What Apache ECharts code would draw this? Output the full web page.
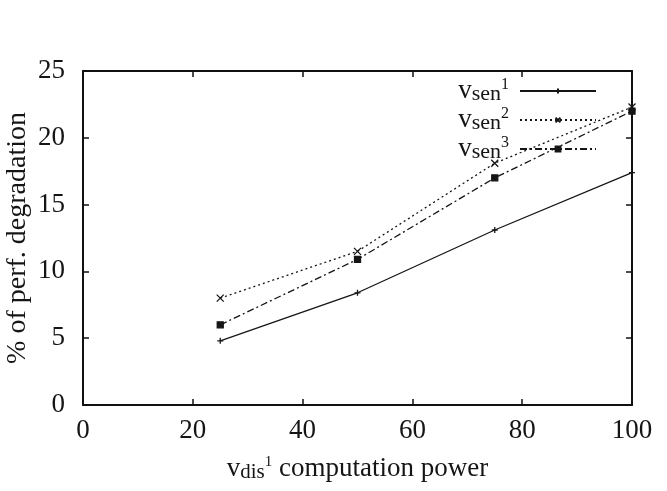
<!DOCTYPE html>
<html>
<head>
<meta charset="utf-8">
<script src="https://cdn.jsdelivr.net/npm/echarts@6/dist/echarts.min.js"></script>
<style>
  html, body { margin: 0; padding: 0; background: #fff; }
  #main { width: 667px; height: 491px; }
</style>
</head>
<body>
<div id="main"></div>
<script>
// 数据
var xValues = [25, 50, 75, 100];
var sen1 = [4.8, 8.4, 13.1, 17.4];
var sen2 = [8.0, 11.5, 18.1, 22.3];
var sen3 = [6.0, 10.9, 17.0, 22.0];
var seriesNames = ['sen1', 'sen2', 'sen3'];

var font = 'Liberation Serif';
var ink = '#151515';

// gnuplot 风格的点
var plusPath = 'path://M5,0L5,10M0,5L10,5';
var crossPath = 'path://M0,0L10,10M10,0L0,10';
var boxPath = 'path://M0,0L10,0L10,10L0,10Z';

function pairs(ys) {
    return ys.map(function (y, i) { return [xValues[i], y]; });
}

function mkSeries(name, data, lineType, symbol, size) {
    return {
        name: name,
        type: 'line',
        data: pairs(data),
        symbol: symbol,
        symbolSize: size,
        showSymbol: true,
        itemStyle: { color: '#fff', borderColor: ink, borderWidth: 1.3 },
        lineStyle: { color: ink, width: 1.3, type: lineType },
        animation: false
    };
}

function boxAxis(extra) {
    var a = {
        type: 'value',
        axisLine: { show: true, onZero: false, lineStyle: { color: '#111', width: 2 } },
        axisTick: { inside: true, length: 6, lineStyle: { color: '#111', width: 1.5 } },
        splitLine: { show: false }
    };
    for (var k in extra) a[k] = extra[k];
    return a;
}

var option = {
    backgroundColor: '#fff',
    animation: false,
    textStyle: { fontFamily: font },
    legend: {
        orient: 'vertical',
        right: 70,
        top: 77,
        padding: 0,
        align: 'right',
        itemWidth: 76,
        itemHeight: 6,
        itemGap: 1,
        data: seriesNames,
        formatter: function (n) {
            return '{v|v}{s|sen}{p|' + n.slice(3) + '}';
        },
        textStyle: {
            padding: [0, 6, 0, 0],
            rich: {
                v: { fontFamily: font, fontSize: 27, color: ink, lineHeight: 28, verticalAlign: 'middle' },
                s: { fontFamily: font, fontSize: 22, color: ink, lineHeight: 12, verticalAlign: 'bottom' },
                p: { fontFamily: font, fontSize: 16, color: ink, lineHeight: 22, verticalAlign: 'top' }
            }
        }
    },
    grid: { left: 83, right: 35, top: 71, bottom: 86, containLabel: false, outerBoundsMode: 'none' },
    xAxis: [boxAxis({
        min: 0, max: 100, interval: 20,
        name: '{v|v}{s|dis}{p|1}{t| computation power}',
        nameLocation: 'middle',
        nameGap: 50,
        nameMoveOverlap: false,
        nameTextStyle: {
            rich: {
                v: { fontFamily: font, fontSize: 27, color: ink, lineHeight: 28, verticalAlign: 'middle' },
                s: { fontFamily: font, fontSize: 21, color: ink, lineHeight: 12, verticalAlign: 'bottom' },
                p: { fontFamily: font, fontSize: 15, color: ink, lineHeight: 22, verticalAlign: 'top' },
                t: { fontFamily: font, fontSize: 27, color: ink, lineHeight: 28, verticalAlign: 'middle' }
            }
        },
        axisLabel: { fontFamily: font, fontSize: 27, color: ink, margin: 12 }
    }), boxAxis({
        position: 'top',
        min: 0, max: 100, interval: 20,
        axisLabel: { show: false }
    })],
    yAxis: [boxAxis({
        min: 0, max: 25, interval: 5,
        name: '% of perf. degradation',
        nameLocation: 'middle',
        nameGap: 51,
        nameMoveOverlap: false,
        nameTextStyle: { fontFamily: font, fontSize: 28, color: ink },
        axisLabel: { fontFamily: font, fontSize: 27, color: ink, margin: 18 }
    }), boxAxis({
        position: 'right',
        min: 0, max: 25, interval: 5,
        axisLabel: { show: false }
    })],
    series: [
        mkSeries('sen1', sen1, 'solid', plusPath, 6),
        mkSeries('sen2', sen2, [2, 3], crossPath, 7),
        mkSeries('sen3', sen3, [7, 3, 2, 3], boxPath, 6)
    ]
};
option.series[2].itemStyle.color = ink;

var myChart = echarts.init(document.getElementById('main'));
myChart.setOption(option);
</script>
</body>
</html>
